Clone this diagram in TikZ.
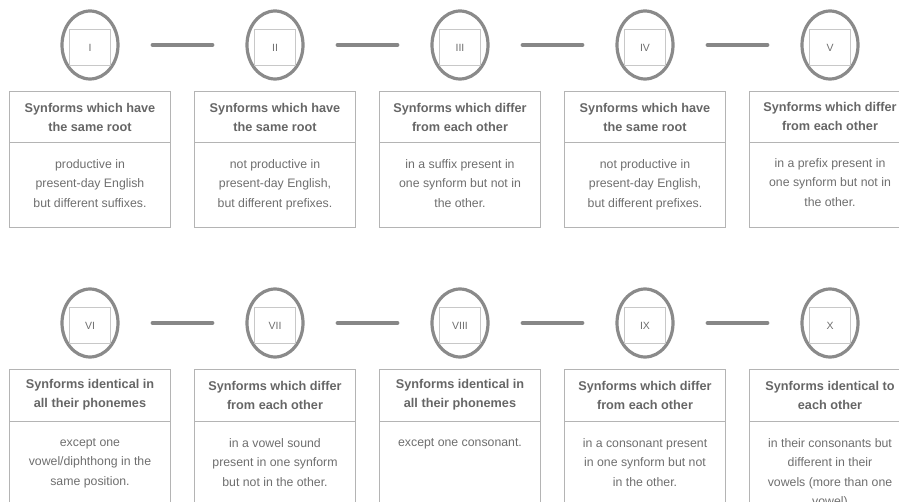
\documentclass[tikz,border=0pt]{standalone}
\usepackage{fontspec}
\setmainfont{Liberation Sans}
\usetikzlibrary{shapes.geometric}
\definecolor{ringc}{HTML}{8A8A8A}
\definecolor{linkc}{HTML}{878787}
\definecolor{sqc}{HTML}{C8C8C8}
\definecolor{boxc}{HTML}{B4B4B4}
\definecolor{titc}{HTML}{666666}
\definecolor{bodc}{HTML}{6E6E6E}
\tikzset{
  ring/.style={draw=ringc, line width=3.2pt, ellipse, minimum width=56pt, minimum height=68pt, inner sep=0pt},
  sq/.style={draw=sqc, line width=1pt, minimum width=41pt, minimum height=36pt, inner sep=0pt, font=\fontsize{10.5}{11}\selectfont, text=bodc},
  link/.style={draw=linkc, line width=4pt, line cap=round, shorten >=33pt, shorten <=33pt},
  boxline/.style={draw=boxc, line width=1pt},
  titletext/.style={font=\bfseries\fontsize{12.7}{19}\selectfont, text=titc, align=center, inner sep=0pt},
  bodytext/.style={font=\fontsize{12.3}{19.5}\selectfont, text=bodc, align=center, inner sep=0pt, anchor=north},
}
\begin{document}
\begin{tikzpicture}[x=1pt,y=-1pt]
\useasboundingbox (0,0) rectangle (899,502);
\clip (0,0) rectangle (899,502);
% ---------- top row ----------
\foreach \c/\n/\lab in {90/1/I, 275/2/II, 460/3/III, 645/4/IV, 830/5/V}{
  \node[ring] (r\n) at (\c,45) {};
  \node[sq] (s\n) at (\c,48) {\lab};
  \draw[boxline] (\c-80.5,92) rectangle (\c+80.5,228);
  \draw[boxline] (\c-80.5,143) -- (\c+80.5,143);
}
\draw[link] (r1.east) -- (r2.west);
\draw[link] (r2.east) -- (r3.west);
\draw[link] (r3.east) -- (r4.west);
\draw[link] (r4.east) -- (r5.west);
\node[titletext] (t1) at (90,117) {Synforms which have\\the same root};
\node[titletext] (t2) at (275,117) {Synforms which have\\the same root};
\node[titletext] (t3) at (460,117) {Synforms which differ\\from each other};
\node[titletext] (t4) at (645,117) {Synforms which have\\the same root};
\node[titletext] (t5) at (830,116) {Synforms which differ\\from each other};
\node[bodytext] (b1) at (90,159) {productive in\\present-day English\\but different suffixes.};
\node[bodytext] (b2) at (275,159) {not productive in\\present-day English,\\but different prefixes.};
\node[bodytext] (b3) at (460,159) {in a suffix present in\\one synform but not in\\the other.};
\node[bodytext] (b4) at (645,159) {not productive in\\present-day English,\\but different prefixes.};
\node[bodytext] (b5) at (830,158) {in a prefix present in\\one synform but not in\\the other.};
% ---------- bottom row ----------
\foreach \c/\n/\lab in {90/6/VI, 275/7/VII, 460/8/VIII, 645/9/IX, 830/10/X}{
  \node[ring] (r\n) at (\c,323) {};
  \node[sq] (s\n) at (\c,326) {\lab};
  \draw[boxline] (\c-80.5,369) rectangle (\c+80.5,510);
  \draw[boxline] (\c-80.5,421) -- (\c+80.5,421);
}
\draw[link] (r6.east) -- (r7.west);
\draw[link] (r7.east) -- (r8.west);
\draw[link] (r8.east) -- (r9.west);
\draw[link] (r9.east) -- (r10.west);
\node[titletext] (t6) at (90,395) {Synforms identical in\\all their phonemes};
\node[titletext] (t7) at (275,395) {Synforms which differ\\from each other};
\node[titletext] (t8) at (460,395) {Synforms identical in\\all their phonemes};
\node[titletext] (t9) at (645,395) {Synforms which differ\\from each other};
\node[titletext] (t10) at (830,395) {Synforms identical to\\each other};
\node[bodytext] (b6) at (90,438) {except one\\vowel/diphthong in the\\same position.};
\node[bodytext] (b7) at (275,438) {in a vowel sound\\present in one synform\\but not in the other.};
\node[bodytext] (b8) at (460,438) {except one consonant.};
\node[bodytext] (b9) at (645,438) {in a consonant present\\in one synform but not\\in the other.};
\node[bodytext] (b10) at (830,438) {in their consonants but\\different in their\\vowels (more than one\\vowel)};
\end{tikzpicture}
\end{document}
